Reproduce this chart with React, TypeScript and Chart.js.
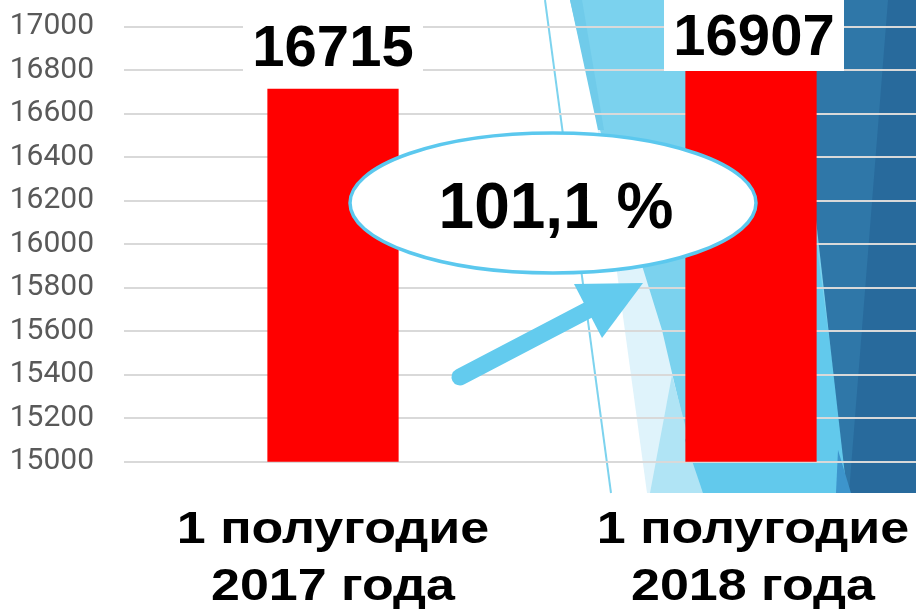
import React, { useEffect, useRef } from "react";
import { Chart, registerables } from "chart.js";

Chart.register(...registerables);

// ---- data ----
const categoryLines: string[][] = [
  ["1 полугодие", "2017 года"],
  ["1 полугодие", "2018 года"],
];
const values: number[] = [16715, 16907];
const yMin = 15000;
const yMax = 17000;
const yStep = 200;

const BOLD_FONT = "'Liberation Sans', Arial, sans-serif";

export default function App() {
  const ref = useRef<HTMLCanvasElement>(null);

  useEffect(() => {
    const canvas = ref.current!;

    const background = {
      id: "background",
      beforeDraw(chart: any) {
        const ctx = chart.ctx as CanvasRenderingContext2D;
        ctx.save();
        ctx.fillStyle = "#ffffff";
        ctx.fillRect(0, 0, chart.width, chart.height);
        const poly = (pts: number[][], color: string) => {
          ctx.beginPath();
          ctx.moveTo(pts[0][0], pts[0][1]);
          for (let i = 1; i < pts.length; i++) ctx.lineTo(pts[i][0], pts[i][1]);
          ctx.closePath();
          ctx.fillStyle = color;
          ctx.fill();
        };
        poly([[580, 0], [960, 0], [960, 493], [647, 493]], "#dff3fb");
        poly([[570, 0], [960, 0], [960, 493], [700, 493], [662, 330], [600, 130]], "#7bd2ee");
        poly([[570, 0], [582, 0], [604, 130], [598, 130]], "#70cbea");
        poly([[650, 493], [672, 375], [703, 493]], "#b0e4f5");
        poly([[703, 493], [685, 440], [816, 240], [850, 493]], "#62c9ec");
        poly([[791, 0], [960, 0], [960, 493], [847, 493]], "#2f77a8");
        poly([[888, 0], [960, 0], [960, 493], [849, 493]], "#286a9c");
        poly([[838, 450], [851, 493], [836, 493]], "#3d95cc");
        ctx.strokeStyle = "#7dd3ee";
        ctx.lineWidth = 2;
        ctx.beginPath();
        ctx.moveTo(545, 0);
        ctx.lineTo(611, 493);
        ctx.stroke();
        ctx.restore();
      },
    };

    const valueLabels = {
      id: "valueLabels",
      afterDatasetsDraw(chart: any) {
        const ctx = chart.ctx as CanvasRenderingContext2D;
        const meta = chart.getDatasetMeta(0);
        ctx.save();
        meta.data.forEach((bar: any, i: number) => {
          const cy = Math.max(bar.y - 44, 34);
          const cx = bar.x + (i === 1 ? 3 : 0);
          ctx.fillStyle = "#ffffff";
          ctx.fillRect(cx - 90, cy - 37, 180, 74);
          ctx.fillStyle = "#000000";
          ctx.font = `bold 58px ${BOLD_FONT}`;
          ctx.textAlign = "center";
          ctx.textBaseline = "alphabetic";
          ctx.fillText(String(values[i]), cx, cy + 21);
        });
        ctx.restore();
      },
    };

    const overlay = {
      id: "overlay",
      afterDraw(chart: any) {
        const ctx = chart.ctx as CanvasRenderingContext2D;
        const xScale = chart.scales.x;
        ctx.save();
        // ellipse
        ctx.beginPath();
        ctx.ellipse(553, 203, 203, 70, 0, 0, Math.PI * 2);
        ctx.fillStyle = "#ffffff";
        ctx.fill();
        ctx.lineWidth = 3.5;
        ctx.strokeStyle = "#5bc8ee";
        ctx.stroke();
        const pct = ((values[1] / values[0]) * 100).toFixed(1).replace(".", ",") + " %";
        ctx.fillStyle = "#000000";
        ctx.font = `bold 64px ${BOLD_FONT}`;
        ctx.textAlign = "center";
        ctx.textBaseline = "alphabetic";
        ctx.fillText(pct, 556, 228);
        // arrow
        ctx.strokeStyle = "#63cbee";
        ctx.fillStyle = "#63cbee";
        ctx.lineWidth = 17;
        ctx.lineCap = "round";
        ctx.beginPath();
        ctx.moveTo(460, 377);
        ctx.lineTo(592, 308);
        ctx.stroke();
        ctx.beginPath();
        ctx.moveTo(574, 284);
        ctx.lineTo(643, 283);
        ctx.lineTo(602, 338);
        ctx.closePath();
        ctx.fill();
        // category labels (horizontally stretched bold text)
        ctx.fillStyle = "#000000";
        ctx.font = `bold 45px ${BOLD_FONT}`;
        ctx.textAlign = "center";
        const sx = 1.155;
        categoryLines.forEach((lines, i) => {
          const x = xScale.getPixelForValue(i) + (i === 1 ? 2 : 0);
          lines.forEach((line, j) => {
            ctx.save();
            ctx.translate(x, 543 + j * 57);
            ctx.scale(sx, 1);
            ctx.fillText(line, 0, 0);
            ctx.restore();
          });
        });
        ctx.restore();
      },
    };

    const chart = new Chart(canvas, {
      type: "bar",
      data: {
        labels: categoryLines as any,
        datasets: [
          {
            data: values,
            backgroundColor: "#ff0000",
            borderWidth: 0,
            barPercentage: 0.314,
            categoryPercentage: 1,
          },
        ],
      },
      options: {
        responsive: false,
        animation: false,
        devicePixelRatio: 1,
        layout: { padding: { top: 26.7, left: 0, right: 0, bottom: 0 } },
        plugins: {
          legend: { display: false },
          tooltip: { enabled: false },
        },
        scales: {
          x: {
            grid: { display: false },
            border: { display: false },
            ticks: { display: false },
            afterFit: (s: any) => {
              s.height = 611 - 461.7;
            },
          },
          y: {
            min: yMin,
            max: yMax,
            grid: {
              color: "#d9d9d9",
              lineWidth: 2,
              drawTicks: true,
              tickLength: 30,
              tickColor: "rgba(0,0,0,0)",
            },
            border: { display: false },
            ticks: {
              stepSize: yStep,
              padding: 0,
              color: "#595959",
              font: { family: "Roboto, sans-serif", size: 30 },
              callback: (v: any) => String(v),
            },
            afterFit: (s: any) => {
              s.width = 124;
            },
          },
        },
      },
      plugins: [background, valueLabels, overlay],
    });

    return () => chart.destroy();
  }, []);

  return (
    <div
      style={{
        position: "fixed",
        left: 0,
        top: 0,
        width: 916,
        height: 611,
        overflow: "hidden",
        background: "#fff",
      }}
    >
      <canvas ref={ref} width={960} height={611} style={{ display: "block" }} />
    </div>
  );
}
